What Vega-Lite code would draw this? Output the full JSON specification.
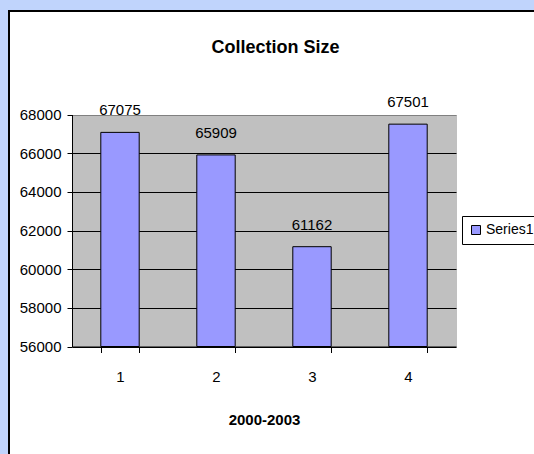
{
  "$schema": "https://vega.github.io/schema/vega-lite/v6.json",
  "width": 525,
  "height": 443,
  "autosize": {"type": "none"},
  "padding": {"left": 9, "top": 11, "right": 0, "bottom": 0},
  "background": "#c0d4fc",
  "title": {
    "text": "Collection Size",
    "font": "Liberation Sans",
    "fontSize": 18,
    "fontWeight": "bold",
    "color": "black",
    "anchor": "middle",
    "frame": "group",
    "offset": -60,
    "baseline": "alphabetic",
    "dx": 4
  },
  "data": {
    "values": [
      {"year": "1", "size": 67075},
      {"year": "2", "size": 65909},
      {"year": "3", "size": 61162},
      {"year": "4", "size": 67501}
    ]
  },
  "layer": [
    {
      "mark": {"type": "text", "font": "Liberation Sans", "fontSize": 15, "baseline": "alphabetic", "dy": -17, "color": "black"},
      "encoding": {
        "x": {
          "field": "year", "type": "nominal",
          "scale": {"type": "band", "paddingInner": 0.6, "paddingOuter": 0.3, "range": [63, 447]},
          "axis": {"orient": "top", "grid": true, "gridColor": "#c0c0c0", "gridWidth": 97, "gridOpacity": 1, "tickBand": "center", "labels": false, "ticks": false, "domain": false, "title": null}
        },
        "y": {
          "field": "size", "type": "quantitative",
          "scale": {"domain": [56000, 68000], "zero": false, "nice": false, "range": [335.5, 103.5]}
        },
        "text": {"field": "size", "type": "quantitative", "format": "d"}
      }
    },
    {
      "mark": {"type": "bar", "stroke": "black", "strokeWidth": 1},
      "encoding": {
        "x": {
          "field": "year", "type": "nominal",
          "scale": {"type": "band", "paddingInner": 0.6, "paddingOuter": 0.3, "range": [63, 447]},
          "axis": {
            "orient": "bottom", "offset": -107.5, "tickBand": "extent", "grid": false,
            "domain": true, "domainColor": "black", "domainWidth": 1,
            "ticks": true, "tickColor": "black", "tickSize": 6, "tickWidth": 1,
            "labelAngle": 0, "labelFont": "Liberation Sans", "labelFontSize": 15, "labelColor": "black", "labelPadding": 17,
            "title": "2000-2003", "titleFont": "Liberation Sans", "titleFontSize": 15, "titleFontWeight": "bold", "titleColor": "black", "titlePadding": 28
          }
        },
        "y": {
          "field": "size", "type": "quantitative",
          "scale": {"domain": [56000, 68000], "zero": false, "nice": false, "range": [335.5, 103.5]},
          "axis": {
            "orient": "left", "offset": -63,
            "values": [56000, 58000, 60000, 62000, 64000, 66000, 68000],
            "format": "d",
            "grid": true,
            "gridColor": {"condition": {"test": "datum.value === 68000", "value": "#808080"}, "value": "black"},
            "gridWidth": 1, "gridOpacity": 1,
            "domain": true, "domainColor": "black", "domainWidth": 1,
            "ticks": true, "tickColor": "black", "tickSize": 5, "tickWidth": 1,
            "labelFont": "Liberation Sans", "labelFontSize": 15, "labelColor": "black", "labelPadding": 6,
            "title": null
          }
        },
        "y2": {"datum": 56000},
        "color": {
          "datum": "Series1", "type": "nominal",
          "scale": {"range": ["#9999ff"]},
          "legend": {
            "orient": "none", "legendX": 453, "legendY": 205,
            "title": null, "fillColor": "white", "strokeColor": "black", "padding": 7,
            "symbolType": "square", "symbolSize": 81, "symbolStrokeColor": "black", "symbolStrokeWidth": 1, "symbolOpacity": 1,
            "labelFont": "Liberation Sans", "labelFontSize": 14, "labelColor": "black", "labelOffset": 3
          }
        }
      }
    }
  ],
  "config": {
    "view": {"fill": "white", "stroke": "black", "strokeWidth": 2, "strokeDash": [525, 968, 443, 1000]}
  }
}
